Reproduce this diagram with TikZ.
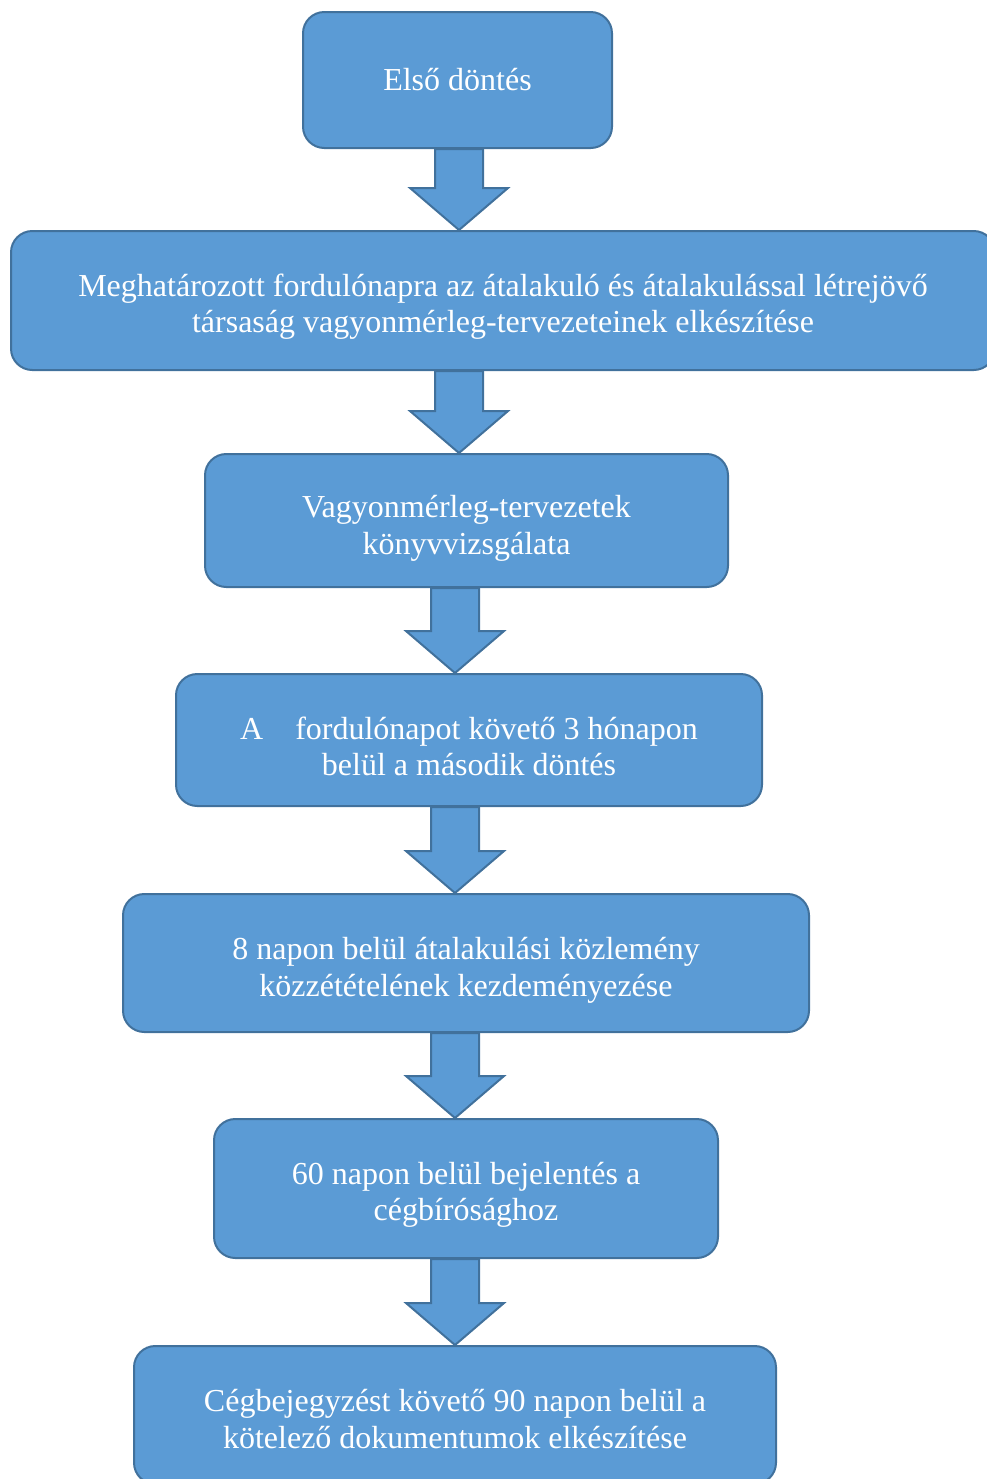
\documentclass[tikz,border=0pt]{standalone}
\usepackage{fontspec}
\setmainfont{Liberation Serif}
\usetikzlibrary{calc}
\definecolor{boxfill}{HTML}{5B9BD5}
\definecolor{boxline}{HTML}{41719C}
\tikzset{
  stepbox/.style={draw=boxline, fill=boxfill, line width=1.5pt, rounded corners=16pt, inner sep=0pt},
  steptext/.style={text=white, align=center, inner sep=0pt, font=\fontsize{24}{27.5}\selectfont},
  barrow/.style={draw=boxline, fill=boxfill, line width=1.5pt, line join=miter}
}
\newcommand{\blockarr}[3]{%
  \draw[barrow] let \p1=(#2.south), \p2=(#3.north), \p3=(#1,0) in
    (\x3-18pt,\y1) -- (\x3-18pt,\y2+31.5pt) -- (\x3-36.75pt,\y2+31.5pt) -- (\x3,\y2)
    -- (\x3+36.75pt,\y2+31.5pt) -- (\x3+18pt,\y2+31.5pt) -- (\x3+18pt,\y1) -- cycle;}
\begin{document}
\begin{tikzpicture}[x=0.75pt,y=-0.75pt]
\useasboundingbox (0,0) rectangle (987,1479);
\clip (0,0) rectangle (987,1479);
\node[stepbox, minimum width=231.75pt, minimum height=102pt] (b1) at (457.5,80) {};
\node[steptext] (t1) at (b1.center) {Első döntés};
\node[stepbox, minimum width=738pt, minimum height=104.25pt] (b2) at (503,300.5) {};
\node[steptext, yshift=-4.75pt] (t2) at (b2.center)
  {Meghatározott fordulónapra az átalakuló és átalakulással létrejövő\\társaság vagyonmérleg-tervezeteinek elkészítése};
\node[stepbox, minimum width=392.25pt, minimum height=99.75pt] (b3) at (466.5,520.5) {};
\node[steptext, yshift=-6pt] (t3) at (b3.center) {Vagyonmérleg-tervezetek\\könyvvizsgálata};
\node[stepbox, minimum width=439.5pt, minimum height=99pt] (b4) at (469,740) {};
\node[steptext, yshift=-4.75pt] (t4) at (b4.center)
  {A\hspace{24pt}fordulónapot követő 3 hónapon\\belül a második döntés};
\node[stepbox, minimum width=514.5pt, minimum height=103.5pt] (b5) at (466,963) {};
\node[steptext, yshift=-5.25pt] (t5) at (b5.center)
  {8 napon belül átalakulási közlemény\\közzétételének kezdeményezése};
\node[stepbox, minimum width=378pt, minimum height=104.25pt] (b6) at (466,1188.5) {};
\node[steptext, yshift=-4.75pt] (t6) at (b6.center) {60 napon belül bejelentés a\\cégbírósághoz};
\node[stepbox, minimum width=481.5pt, minimum height=103.5pt] (b7) at (455,1415) {};
\node[steptext, yshift=-3pt] (t7) at (b7.center)
  {Cégbejegyzést követő 90 napon belül a\\kötelező dokumentumok elkészítése};
\blockarr{459}{b1}{b2}
\blockarr{459}{b2}{b3}
\blockarr{455}{b3}{b4}
\blockarr{455}{b4}{b5}
\blockarr{455}{b5}{b6}
\blockarr{455}{b6}{b7}
\end{tikzpicture}
\end{document}
